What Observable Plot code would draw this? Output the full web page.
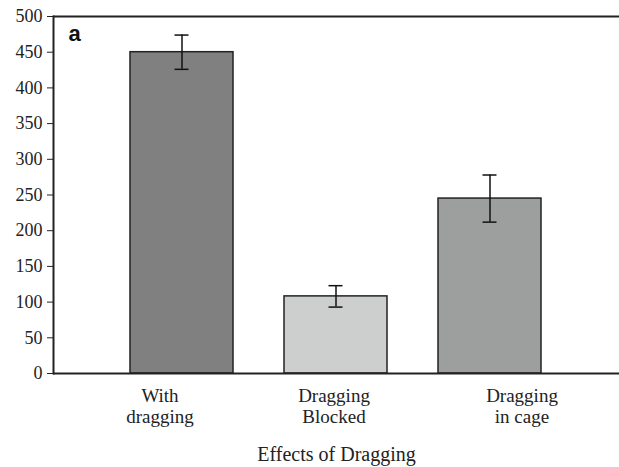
<!DOCTYPE html>
<html>
<head>
<meta charset="utf-8">
<script src="https://cdn.jsdelivr.net/npm/d3@7"></script>
<script src="https://cdn.jsdelivr.net/npm/@observablehq/plot@0.6"></script>
<style>
  html, body { margin: 0; padding: 0; background: #fff; }
  #chart svg { display: block; }
</style>
</head>
<body>
<div id="chart"></div>
<script>
const categories = ["With\ndragging", "Dragging\nBlocked", "Dragging\nin cage"];
const values = [450, 108, 245];
const errors = [24, 15, 33];
const fills = ["#808080", "#cdcfce", "#9d9f9e"];
const yTicks = [0, 50, 100, 150, 200, 250, 300, 350, 400, 450, 500];
const xLabel = "Effects of Dragging";
const panelLabel = "a";

const data = categories.map((c, i) => ({cat: c, v: values[i], e: errors[i], fill: fills[i]}));
const serif = "Liberation Serif";

// category label marks (labels in the original sit slightly off the bar centres)
const catLabel = (i, shift) => Plot.text([categories[i]], {
  x: d => d, frameAnchor: "bottom", dy: 13, dx: shift, lineAnchor: "top",
  text: d => d, fontSize: 19, fontFamily: serif, lineHeight: 1.12, fill: "#222"
});

const chart = Plot.plot({
  width: 619,
  height: 467,
  marginLeft: 53,
  marginRight: 0,
  marginTop: 16,
  marginBottom: 94,
  style: {fontFamily: serif, fontSize: "18px", color: "#222", background: "#fff"},
  x: {domain: categories, paddingInner: 0.33, paddingOuter: 0.5, axis: null},
  y: {domain: [0, 500], axis: null},
  marks: [
    Plot.barY(data, {x: "cat", y: "v", fill: "fill", stroke: "#222", strokeWidth: 1.5}),
    Plot.ruleX(data, {x: "cat", y1: d => d.v - d.e, y2: d => d.v + d.e, stroke: "#111", strokeWidth: 1.5}),
    Plot.tickY(data, {x: "cat", y: d => d.v + d.e, stroke: "#111", strokeWidth: 1.5, insetLeft: 44.5, insetRight: 44.5}),
    Plot.tickY(data, {x: "cat", y: d => d.v - d.e, stroke: "#111", strokeWidth: 1.5, insetLeft: 44.5, insetRight: 44.5}),
    Plot.ruleY([0], {stroke: "#222", strokeWidth: 2}),
    Plot.ruleY([500], {stroke: "#222", strokeWidth: 2}),
    Plot.frame({anchor: "left", stroke: "#222", strokeWidth: 2}),
    Plot.axisY({ticks: yTicks, tickSize: 6, tickPadding: 5, tickFormat: d => String(d), fontSize: 18, fontFamily: serif, stroke: "#222", fill: "#222", label: null}),
    catLabel(0, -22),
    catLabel(1, -2),
    catLabel(2, 32),
    Plot.text([xLabel], {frameAnchor: "bottom", dy: 81, text: d => d, fontSize: 20, fontFamily: serif, fill: "#222", lineAnchor: "middle"}),
    Plot.text([panelLabel], {frameAnchor: "top-left", dx: 15, dy: 17, text: d => d, fontSize: 22, fontWeight: "bold", fontFamily: "Liberation Sans", fill: "#111", lineAnchor: "middle"})
  ]
});
document.getElementById("chart").appendChild(chart);
</script>
</body>
</html>
